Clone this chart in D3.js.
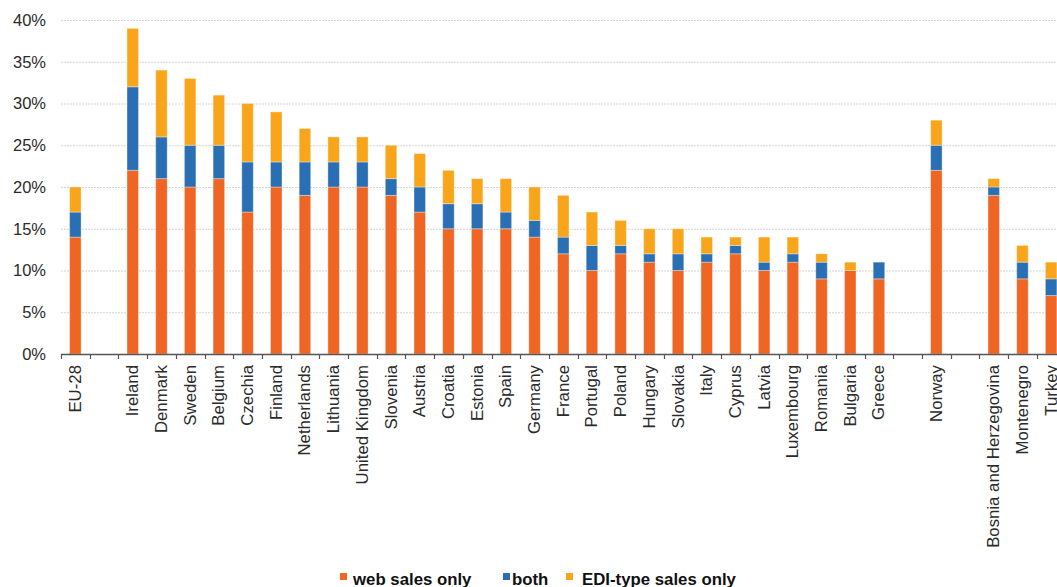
<!DOCTYPE html>
<html>
<head>
<meta charset="utf-8">
<script src="https://cdn.jsdelivr.net/npm/d3@7"></script>
<style>
  html, body { margin: 0; padding: 0; background: #fff; }
  svg { display: block; font-family: "Liberation Sans", Arial, sans-serif; }
</style>
</head>
<body>
<svg id="chart" width="1057" height="587"></svg>
<script>
// Categories ("" = empty gap slot)
const categories = ["EU-28", "", "Ireland", "Denmark", "Sweden", "Belgium", "Czechia", "Finland",
  "Netherlands", "Lithuania", "United Kingdom", "Slovenia", "Austria", "Croatia", "Estonia", "Spain",
  "Germany", "France", "Portugal", "Poland", "Hungary", "Slovakia", "Italy", "Cyprus", "Latvia",
  "Luxembourg", "Romania", "Bulgaria", "Greece", "", "Norway", "", "Bosnia and Herzegovina",
  "Montenegro", "Turkey"];

const webSalesOnly = [14, null, 22, 21, 20, 21, 17, 20, 19, 20, 20, 19, 17, 15, 15, 15,
  14, 12, 10, 12, 11, 10, 11, 12, 10, 11, 9, 10, 9, null, 22, null, 19, 9, 7];
const both = [3, null, 10, 5, 5, 4, 6, 3, 4, 3, 3, 2, 3, 3, 3, 2,
  2, 2, 3, 1, 1, 2, 1, 1, 1, 1, 2, 0, 2, null, 3, null, 1, 2, 2];
const ediTypeOnly = [3, null, 7, 8, 8, 6, 7, 6, 4, 3, 3, 4, 4, 4, 3, 4,
  4, 5, 4, 3, 3, 3, 2, 1, 3, 2, 1, 1, 0, null, 3, null, 1, 2, 2];

const yTicks = [0, 5, 10, 15, 20, 25, 30, 35, 40];

const seriesNames = ["web sales only", "both", "EDI-type sales only"];
const seriesColors = ["#EE6524", "#2A6EB4", "#F9A51B"];

const svg = d3.select("#chart");
const plotLeft = 61, plotTop = 20, plotBottom = 354;
const step = 28.7;
const plotRight = plotLeft + step * categories.length;

const keys = categories.map((c, i) => "k" + i);
const x = d3.scaleBand().domain(keys).range([plotLeft, plotRight]).paddingInner(0).paddingOuter(0);
const y = d3.scaleLinear().domain([0, 40]).range([plotBottom, plotTop]);

// Gridlines
svg.append("g").selectAll("line").data(yTicks.filter(t => t > 0)).join("line")
  .attr("x1", plotLeft).attr("x2", 1057)
  .attr("y1", d => y(d) + 0.5).attr("y2", d => y(d) + 0.5)
  .attr("stroke", "#d4d4d4").attr("stroke-width", 1).attr("stroke-dasharray", "2,1");

// Y axis labels
const yAxis = d3.axisLeft(y).tickValues(yTicks).tickFormat(d => d + "%").tickSize(0).tickPadding(0);
const yg = svg.append("g").attr("transform", `translate(${plotLeft - 15},0)`).call(yAxis);
yg.select(".domain").remove();
yg.selectAll("text").attr("font-size", 16.5).attr("fill", "#2b2b2b").attr("font-family", "Liberation Sans, Arial, sans-serif");

// Stacked data
const rows = categories.map((c, i) => ({ key: keys[i], name: c, web: webSalesOnly[i] || 0, both: both[i] || 0, edi: ediTypeOnly[i] || 0 }));
const stack = d3.stack().keys(["web", "both", "edi"]);
const stacked = stack(rows);

const barW = 11.5;
svg.append("g").selectAll("g").data(stacked).join("g")
  .attr("fill", (d, i) => seriesColors[i])
  .selectAll("rect").data(d => d.filter(s => s[1] - s[0] > 0)).join("rect")
  .attr("x", d => x(d.data.key) + x.bandwidth() / 2 - barW / 2)
  .attr("width", barW)
  .attr("y", d => y(d[1]))
  .attr("height", d => y(d[0]) - y(d[1]))
  .attr("stroke", "rgba(255,255,255,0.35)").attr("stroke-width", 1);

// X axis line
svg.append("line").attr("x1", plotLeft).attr("x2", 1057)
  .attr("y1", plotBottom + 0.5).attr("y2", plotBottom + 0.5)
  .attr("stroke", "#555").attr("stroke-width", 1.5);

// Boundary ticks
const bounds = keys.map(k => x(k)).concat([plotRight]);
svg.append("g").selectAll("line").data(bounds).join("line")
  .attr("x1", d => Math.round(d) + 0.5).attr("x2", d => Math.round(d) + 0.5)
  .attr("y1", plotBottom).attr("y2", plotBottom + 5)
  .attr("stroke", "#555").attr("stroke-width", 1.2);

// X labels
svg.append("g").selectAll("text").data(rows.filter(r => r.name !== "")).join("text")
  .attr("transform", d => `translate(${x(d.key) + x.bandwidth() / 2 + 5.5},${plotBottom + 11}) rotate(-90)`)
  .attr("text-anchor", "end")
  .attr("font-size", 16.8)
  .attr("fill", "#2b2b2b")
  .text(d => d.name);

// Legend
const legendPos = [{ sq: 340, tx: 353 }, { sq: 503, tx: 512 }, { sq: 566, tx: 582 }];
const lg = svg.append("g");
seriesNames.forEach((n, i) => {
  lg.append("rect").attr("x", legendPos[i].sq).attr("y", 573).attr("width", 7).attr("height", 7)
    .attr("fill", seriesColors[i]);
  lg.append("text").attr("x", legendPos[i].tx).attr("y", 584.5)
    .attr("font-size", 16.8).attr("font-weight", "bold").attr("fill", "#111").text(n);
});
</script>
</body>
</html>
